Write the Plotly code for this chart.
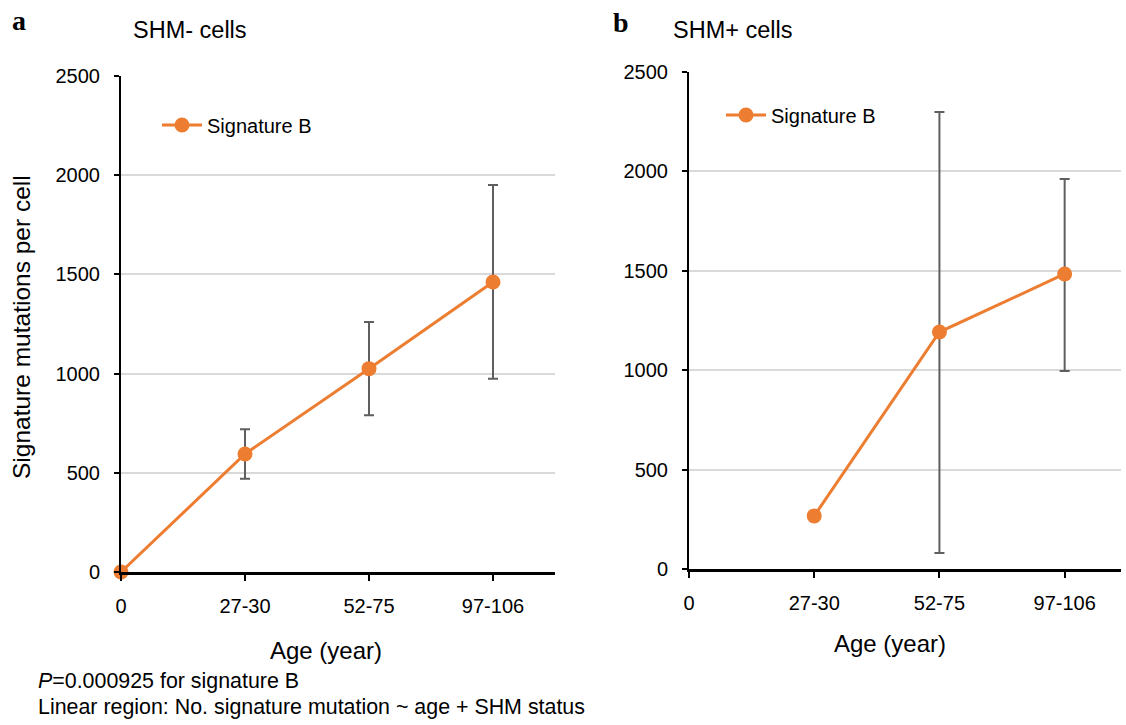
import plotly.graph_objects as go

categories = ["0", "27-30", "52-75", "97-106"]
x_pos = [0, 1, 2, 3]

shm_neg_values = [0, 595, 1025, 1462]
shm_neg_err_plus = [0, 125, 235, 488]
shm_neg_err_minus = [0, 125, 235, 488]

shm_pos_values = [None, 267, 1192, 1484]
shm_pos_err_plus = [0, 0, 1107, 478]
shm_pos_err_minus = [0, 0, 1112, 488]

y_ticks = [0, 500, 1000, 1500, 2000, 2500]

ORANGE = "#ED7D31"
ERR = "#5F5F5F"
FONT = "Liberation Sans, Arial, sans-serif"

fig = go.Figure()

fig.add_trace(go.Scatter(
    x=x_pos, y=shm_neg_values, mode="lines+markers", name="Signature B",
    line=dict(color=ORANGE, width=3), marker=dict(color=ORANGE, size=15),
    error_y=dict(type="data", symmetric=False, array=shm_neg_err_plus,
                 arrayminus=shm_neg_err_minus, color=ERR, thickness=2, width=5),
    xaxis="x", yaxis="y", legend="legend", cliponaxis=False,
))
fig.add_trace(go.Scatter(
    x=x_pos, y=shm_pos_values, mode="lines+markers", name="Signature B",
    line=dict(color=ORANGE, width=3), marker=dict(color=ORANGE, size=15),
    error_y=dict(type="data", symmetric=False, array=shm_pos_err_plus,
                 arrayminus=shm_pos_err_minus, color=ERR, thickness=2, width=5),
    xaxis="x2", yaxis="y2", legend="legend2", cliponaxis=False,
))

xcommon = dict(tickvals=x_pos, ticktext=categories, automargin=False,
               showgrid=False, zeroline=False, showline=True, linecolor="black",
               linewidth=3, ticks="outside", ticklen=6, tickwidth=2, tickcolor="black",
               tickfont=dict(family=FONT, size=20, color="black"),
               ticklabelstandoff=8)
ycommon = dict(range=[0, 2500], tickvals=y_ticks, showgrid=True, gridcolor="#D9D9D9",
               gridwidth=1.5, zeroline=False, showline=True, linecolor="black", automargin=False,
               linewidth=2, ticks="outside", ticklen=5, tickwidth=2, tickcolor="black",
               tickfont=dict(family=FONT, size=20, color="black"),
               ticklabelstandoff=10)

fig.update_layout(
    width=1126, height=725,
    margin=dict(l=0, r=0, t=0, b=0, autoexpand=False),
    paper_bgcolor="white", plot_bgcolor="white",
    xaxis=dict(domain=[121 / 1126, 555 / 1126], anchor="y", range=[0, 3.5], **xcommon),
    yaxis=dict(domain=[1 - 572 / 725, 1 - 76 / 725], anchor="x", **ycommon),
    xaxis2=dict(domain=[689 / 1126, 1121 / 1126], anchor="y2", range=[0, 3.45], **xcommon),
    yaxis2=dict(domain=[1 - 569 / 725, 1 - 72 / 725], anchor="x2", **ycommon),
    legend=dict(x=157 / 1126, y=1 - 125 / 725, xanchor="left", yanchor="middle",
                bgcolor="rgba(0,0,0,0)", font=dict(family=FONT, size=20, color="black"),
                itemwidth=40),
    legend2=dict(x=721 / 1126, y=1 - 115 / 725, xanchor="left", yanchor="middle",
                 bgcolor="rgba(0,0,0,0)", font=dict(family=FONT, size=20, color="black"),
                 itemwidth=40),
    showlegend=True,
)

ann = [
    dict(text="<b>a</b>", x=10, y=20, font=dict(family="Liberation Serif, serif", size=28)),
    dict(text="<b>b</b>", x=611, y=22, font=dict(family="Liberation Serif, serif", size=28)),
    dict(text="SHM- cells", x=131, y=30, font=dict(family=FONT, size=23.5)),
    dict(text="SHM+ cells", x=671, y=30, font=dict(family=FONT, size=23.5)),
    dict(text="<i>P</i>=0.000925 for signature B", x=36, y=681,
         font=dict(family=FONT, size=21.4)),
    dict(text="Linear region: No. signature mutation ~ age + SHM status", x=36, y=707,
         font=dict(family=FONT, size=21.4)),
]
for a in ann:
    fig.add_annotation(text=a["text"], xref="paper", yref="paper",
                       x=a["x"] / 1126, y=1 - a["y"] / 725, xanchor="left", yanchor="middle",
                       showarrow=False, font=dict(color="black", **a["font"]))

fig.add_annotation(text="Age (year)", xref="paper", yref="paper", x=(121 + 531) / 2 / 1126,
                   y=1 - 650 / 725, xanchor="center", yanchor="middle", showarrow=False,
                   font=dict(family=FONT, size=24, color="black"))
fig.add_annotation(text="Age (year)", xref="paper", yref="paper", x=(689 + 1090) / 2 / 1126,
                   y=1 - 643 / 725, xanchor="center", yanchor="middle", showarrow=False,
                   font=dict(family=FONT, size=24, color="black"))
fig.add_annotation(text="Signature mutations per cell", xref="paper", yref="paper",
                   x=21 / 1126, y=1 - 327 / 725, xanchor="center", yanchor="middle",
                   textangle=-90, showarrow=False,
                   font=dict(family=FONT, size=24.5, color="black"))

fig.write_html("out.html", config={"displayModeBar": False},
               post_script="document.body.style.margin='0';document.body.style.padding='0';")
